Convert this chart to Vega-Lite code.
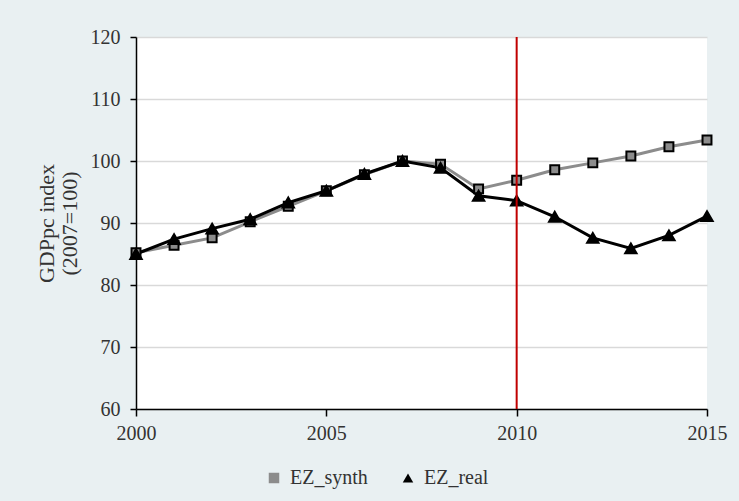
{
  "$schema": "https://vega.github.io/schema/vega-lite/v6.json",
  "autosize": {"type": "none"},
  "padding": {"left": 136, "top": 37, "right": 32, "bottom": 92},
  "width": 571,
  "height": 372,
  "background": "#e9f0f2",
  "config": {
    "view": {"fill": "white", "stroke": null},
    "font": "Liberation Serif",
    "legend": {"labelFont": "Liberation Serif", "labelFontSize": 20, "labelColor": "#333", "symbolSize": 110, "labelOffset": 6, "columnPadding": 30, "symbolStrokeWidth": 2, "symbolStrokeColor": "black"}
  },
  "datasets": {
    "series": [
      {"year": 2000, "series": "EZ_synth", "value": 85.2},
      {"year": 2001, "series": "EZ_synth", "value": 86.4},
      {"year": 2002, "series": "EZ_synth", "value": 87.6},
      {"year": 2003, "series": "EZ_synth", "value": 90.2},
      {"year": 2004, "series": "EZ_synth", "value": 92.7},
      {"year": 2005, "series": "EZ_synth", "value": 95.2},
      {"year": 2006, "series": "EZ_synth", "value": 97.8},
      {"year": 2007, "series": "EZ_synth", "value": 100.0},
      {"year": 2008, "series": "EZ_synth", "value": 99.5},
      {"year": 2009, "series": "EZ_synth", "value": 95.5},
      {"year": 2010, "series": "EZ_synth", "value": 96.9},
      {"year": 2011, "series": "EZ_synth", "value": 98.6},
      {"year": 2012, "series": "EZ_synth", "value": 99.7},
      {"year": 2013, "series": "EZ_synth", "value": 100.8},
      {"year": 2014, "series": "EZ_synth", "value": 102.3},
      {"year": 2015, "series": "EZ_synth", "value": 103.4},
      {"year": 2000, "series": "EZ_real", "value": 85.0},
      {"year": 2001, "series": "EZ_real", "value": 87.4},
      {"year": 2002, "series": "EZ_real", "value": 89.1},
      {"year": 2003, "series": "EZ_real", "value": 90.6},
      {"year": 2004, "series": "EZ_real", "value": 93.3},
      {"year": 2005, "series": "EZ_real", "value": 95.2},
      {"year": 2006, "series": "EZ_real", "value": 97.9},
      {"year": 2007, "series": "EZ_real", "value": 100.0},
      {"year": 2008, "series": "EZ_real", "value": 98.9},
      {"year": 2009, "series": "EZ_real", "value": 94.4},
      {"year": 2010, "series": "EZ_real", "value": 93.6},
      {"year": 2011, "series": "EZ_real", "value": 91.0},
      {"year": 2012, "series": "EZ_real", "value": 87.6},
      {"year": 2013, "series": "EZ_real", "value": 85.9},
      {"year": 2014, "series": "EZ_real", "value": 88.0},
      {"year": 2015, "series": "EZ_real", "value": 91.1}
    ],
    "marker": [{"year": 2010}]
  },
  "layer": [
    {
      "data": {"name": "series"},
      "mark": {"type": "line", "strokeWidth": 3},
      "encoding": {
        "x": {
          "field": "year", "type": "quantitative",
          "scale": {"domain": [2000, 2015], "nice": false, "zero": false},
          "axis": {
            "values": [2000, 2005, 2010, 2015], "format": "d", "title": null,
            "grid": false, "domainColor": "black", "domainWidth": 1.5,
            "tickColor": "black", "tickWidth": 1.5, "tickSize": 7,
            "labelFontSize": 20, "labelColor": "#333", "labelPadding": 7,
            "labelFont": "Liberation Serif", "labelFlush": false
          }
        },
        "y": {
          "field": "value", "type": "quantitative",
          "scale": {"domain": [60, 120], "nice": false, "zero": false},
          "axis": {
            "values": [60, 70, 80, 90, 100, 110, 120],
            "title": ["GDPpc index", "(2007=100)"],
            "titleFont": "Liberation Serif", "titleFontSize": 22, "titleFontWeight": "normal",
            "titleColor": "#333", "titleLineHeight": 23, "titlePadding": 9,
            "grid": true, "gridColor": "#d9d9d9", "gridWidth": 1.5,
            "domainColor": "black", "domainWidth": 1.5,
            "tickColor": "black", "tickWidth": 1.5, "tickSize": 6,
            "labelFontSize": 20, "labelColor": "#333", "labelPadding": 10,
            "labelFont": "Liberation Serif"
          }
        },
        "detail": {"field": "series", "type": "nominal"},
        "color": {
          "condition": {"test": "datum.series === 'EZ_synth'", "value": "#8c8c8c"},
          "value": "#000000"
        },
        "order": {"field": "year"}
      }
    },
    {
      "data": {"name": "series"},
      "mark": {"type": "point", "filled": true, "stroke": "black", "strokeWidth": 2, "opacity": 1},
      "encoding": {
        "x": {"field": "year", "type": "quantitative"},
        "y": {"field": "value", "type": "quantitative"},
        "size": {
          "condition": {"test": "datum.series === 'EZ_real'", "value": 130},
          "value": 80
        },
        "shape": {
          "field": "series", "type": "nominal",
          "scale": {"domain": ["EZ_synth", "EZ_real"], "range": ["square", "triangle-up"]},
          "legend": {
            "title": null, "orient": "none", "legendX": 128, "legendY": 431,
            "direction": "horizontal", "labelFontSize": 20, "labelFont": "Liberation Serif",
            "symbolSize": 110
          }
        },
        "fill": {
          "field": "series", "type": "nominal",
          "scale": {"domain": ["EZ_synth", "EZ_real"], "range": ["#8c8c8c", "#000000"]},
          "legend": {
            "title": null, "orient": "none", "legendX": 128, "legendY": 431,
            "direction": "horizontal", "labelFontSize": 20, "labelFont": "Liberation Serif",
            "symbolSize": 110
          }
        }
      }
    },
    {
      "data": {"name": "marker"},
      "mark": {"type": "rule", "color": "#c00000", "strokeWidth": 2},
      "encoding": {
        "x": {"field": "year", "type": "quantitative"}
      }
    }
  ]
}
